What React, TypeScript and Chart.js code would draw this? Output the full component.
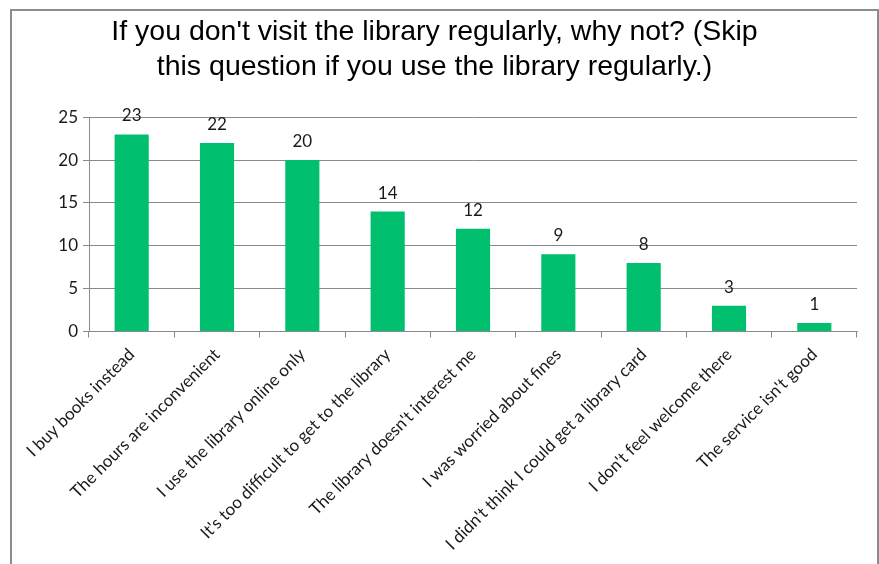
import React, { useEffect, useRef } from "react";
import { Chart, registerables } from "chart.js";

Chart.register(...registerables);

const titleLines = [
  "If you don't visit the library regularly, why not? (Skip",
  "this question if you use the library regularly.)",
];
const categories = [
  "I buy books instead",
  "The hours are inconvenient",
  "I use the library online only",
  "It's too difficult to get to the library",
  "The library doesn't interest me",
  "I was worried about fines",
  "I didn't think I could get a library card",
  "I don't feel welcome there",
  "The service isn't good",
];
const values = [23, 22, 20, 14, 12, 9, 8, 3, 1];
const yMin = 0;
const yMax = 25;
const yStep = 5;

const BAR = "#00BF6F";
const GRID = "#8a8a8a";
const TEXT = "#1a1a1a";
const FONT = "Lato, 'Open Sans', sans-serif";

const valueLabels = {
  id: "valueLabels",
  afterDatasetsDraw(chart: any) {
    const ctx = chart.ctx;
    const meta = chart.getDatasetMeta(0);
    ctx.save();
    ctx.font = `17px ${FONT}`;
    ctx.fillStyle = TEXT;
    ctx.textAlign = "center";
    ctx.textBaseline = "alphabetic";
    meta.data.forEach((bar: any, i: number) => {
      ctx.fillText(String(values[i]), bar.x, bar.y - 13);
    });
    ctx.restore();
  },
};

export default function App() {
  const ref = useRef<HTMLCanvasElement>(null);
  useEffect(() => {
    const chart = new Chart(ref.current as HTMLCanvasElement, {
      type: "bar",
      data: {
        labels: categories,
        datasets: [
          {
            data: values,
            backgroundColor: BAR,
            borderWidth: 0,
            barPercentage: 0.4,
            categoryPercentage: 1,
          },
        ],
      },
      options: {
        responsive: false,
        animation: false,
        layout: { padding: { left: 0, right: 20, top: 0, bottom: 0 } },
        plugins: {
          legend: { display: false },
          tooltip: { enabled: false },
          title: {
            display: true,
            text: titleLines,
            color: "#000",
            font: { family: "'Liberation Sans', Arial, sans-serif", size: 28.5, weight: "normal", lineHeight: 1.25 },
            padding: { top: 3, bottom: 32 },
          },
        },
        scales: {
          x: {
            grid: {
              offset: true,
              drawOnChartArea: false,
              drawTicks: true,
              tickLength: 6,
              color: GRID,
            },
            border: { display: true, color: GRID, width: 1 },
            ticks: {
              autoSkip: false,
              maxRotation: 45,
              minRotation: 45,
              padding: 7,
              color: TEXT,
              font: { family: FONT, size: 17 },
            },
          },
          y: {
            min: yMin,
            max: yMax,
            ticks: {
              stepSize: yStep,
              padding: 5,
              color: TEXT,
              font: { family: FONT, size: 17 },
            },
            grid: { color: GRID, tickLength: 6 },
            border: { display: true, color: GRID, width: 1 },
            afterFit: (scale: any) => {
              scale.width = 77;
            },
          },
        },
      },
      plugins: [valueLabels],
    });
    return () => chart.destroy();
  }, []);
  return (
    <div
      style={{
        position: "absolute",
        left: 10,
        top: 9,
        width: 865,
        height: 600,
        border: "2px solid #8c8c8c",
        background: "#fff",
      }}
    >
      <canvas ref={ref} width={865} height={550} style={{ display: "block" }} />
    </div>
  );
}
